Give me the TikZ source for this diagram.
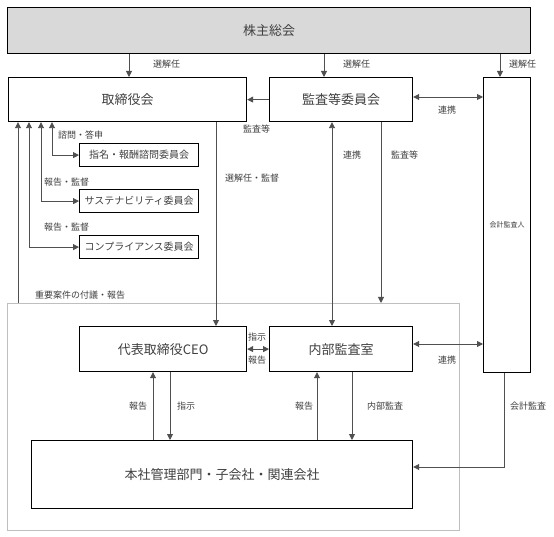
\documentclass[tikz,border=0pt]{standalone}
\usepackage{fontspec}
\setmainfont{Noto Sans CJK JP}
\usetikzlibrary{arrows.meta}
\definecolor{linegray}{HTML}{505050}
\definecolor{textgray}{HTML}{404040}
\definecolor{framegray}{HTML}{BFBFBF}
\definecolor{fillgray}{HTML}{D9D9D9}
\tikzset{
  box/.style={draw=black, line width=1.2pt, anchor=north west, inner sep=0pt, fill=white, text=textgray},
  bigtext/.style={font=\fontsize{13}{15}\selectfont},
  midtext/.style={font=\fontsize{10}{12}\selectfont},
  lab/.style={font=\fontsize{9}{11}\selectfont, text=textgray, inner sep=0pt},
  conn/.style={draw=linegray, line width=0.9pt},
  arr/.style={conn, -{Triangle[length=6pt,width=6pt]}},
  arrb/.style={conn, {Triangle[length=6pt,width=6pt]}-{Triangle[length=6pt,width=6pt]}},
  arrs/.style={conn, {Triangle[length=6pt,width=6pt]}-},
  framebox/.style={draw=framegray, line width=0.9pt, anchor=north west, inner sep=0pt}
}
\begin{document}
\begin{tikzpicture}[x=1pt,y=-1pt]
\useasboundingbox[fill=white] (0,0) rectangle (554,537);
% frame
\node[framebox, minimum width=452pt, minimum height=227pt] (frame) at (7,303) {};
% boxes
\node[box, bigtext, fill=fillgray, minimum width=523pt, minimum height=46pt] (gm) at (7,7) {株主総会};
\node[box, bigtext, minimum width=238pt, minimum height=44pt] (board) at (8,77) {取締役会};
\node[box, bigtext, minimum width=143pt, minimum height=44pt] (ac) at (269,77) {監査等委員会};
\node[box, font=\fontsize{7}{8}\selectfont, minimum width=47pt, minimum height=295pt] (aud) at (483,77) {会計監査人};
\node[box, midtext, minimum width=119pt, minimum height=23pt] (nom) at (79,143) {指名・報酬諮問委員会};
\node[box, midtext, minimum width=119pt, minimum height=23pt] (sus) at (79,189) {サステナビリティ委員会};
\node[box, midtext, minimum width=119pt, minimum height=23pt] (comp) at (79,235) {コンプライアンス委員会};
\node[box, bigtext, minimum width=167pt, minimum height=45pt] (ceo) at (79,326) {代表取締役CEO};
\node[box, bigtext, minimum width=143pt, minimum height=45pt] (ia) at (269,326) {内部監査室};
\node[box, bigtext, minimum width=381pt, minimum height=68pt] (hq) at (31,440) {本社管理部門・子会社・関連会社};
% x positions
\coordinate (t1) at (129,0);
\coordinate (t2) at (324,0);
\coordinate (t3) at (500,0);
\coordinate (b1) at (18,0);
\coordinate (b2) at (29,0);
\coordinate (b3) at (41,0);
\coordinate (b4) at (52,0);
\coordinate (c1) at (216,0);
\coordinate (c2) at (332,0);
\coordinate (c3) at (381,0);
\coordinate (d1) at (153,0);
\coordinate (d2) at (170,0);
\coordinate (d3) at (317,0);
\coordinate (d4) at (352,0);
\coordinate (e1) at (504,0);
\coordinate (y1) at (0,97);
\coordinate (y2) at (0,344);
\coordinate (y3) at (0,467);
% connectors
\draw[arr] (gm.south -| t1) -- (board.north -| t1);
\draw[arr] (gm.south -| t2) -- (ac.north -| t2);
\draw[arr] (gm.south -| t3) -- (aud.north -| t3);
\draw[arr] (ac.west) -- (board.east);
\draw[arrb] (ac.east |- y1) -- (aud.west |- y1);
\draw[arrb] (board.south -| b4) |- (nom.west);
\draw[arrb] (board.south -| b3) |- (sus.west);
\draw[arrb] (board.south -| b2) |- (comp.west);
\draw[arrs] (board.south -| b1) -- (frame.north -| b1);
\draw[arr] (board.south -| c1) -- (ceo.north -| c1);
\draw[arrb] (ac.south -| c2) -- (ia.north -| c2);
\draw[arr] (ac.south -| c3) -- (frame.north -| c3);
\draw[arrb] (ceo.east) -- (ia.west);
\draw[arrb] (ia.east |- y2) -- (aud.west |- y2);
\draw[arr] (hq.north -| d1) -- (ceo.south -| d1);
\draw[arr] (ceo.south -| d2) -- (hq.north -| d2);
\draw[arr] (hq.north -| d3) -- (ia.south -| d3);
\draw[arr] (ia.south -| d4) -- (hq.north -| d4);
\draw[arr] (aud.south -| e1) |- (hq.east |- y3);
% labels
\node[lab, anchor=west] (l1) at (153,64) {選解任};
\node[lab, anchor=west] (l2) at (343,64) {選解任};
\node[lab, anchor=west] (l3) at (509,64) {選解任};
\node[lab, anchor=west] (l4) at (243,129) {監査等};
\node[lab] (l5) at (447,110) {連携};
\node[lab, anchor=west] (l6) at (58,135) {諮問・答申};
\node[lab, anchor=west] (l7) at (44,182) {報告・監督};
\node[lab, anchor=west] (l8) at (44,227) {報告・監督};
\node[lab, anchor=west] (l9) at (35,295) {重要案件の付議・報告};
\node[lab, anchor=west] (l10) at (225,178) {選解任・監督};
\node[lab, anchor=west] (l11) at (343,155) {連携};
\node[lab, anchor=west] (l12) at (391,155) {監査等};
\node[lab] (l13) at (257,337) {指示};
\node[lab] (l14) at (257,360) {報告};
\node[lab] (l15) at (447,360) {連携};
\node[lab] (l16) at (138,406) {報告};
\node[lab, anchor=west] (l17) at (177,406) {指示};
\node[lab] (l18) at (304,406) {報告};
\node[lab, anchor=west] (l19) at (367,406) {内部監査};
\node[lab, anchor=west] (l20) at (510,406) {会計監査};
\end{tikzpicture}
\end{document}
